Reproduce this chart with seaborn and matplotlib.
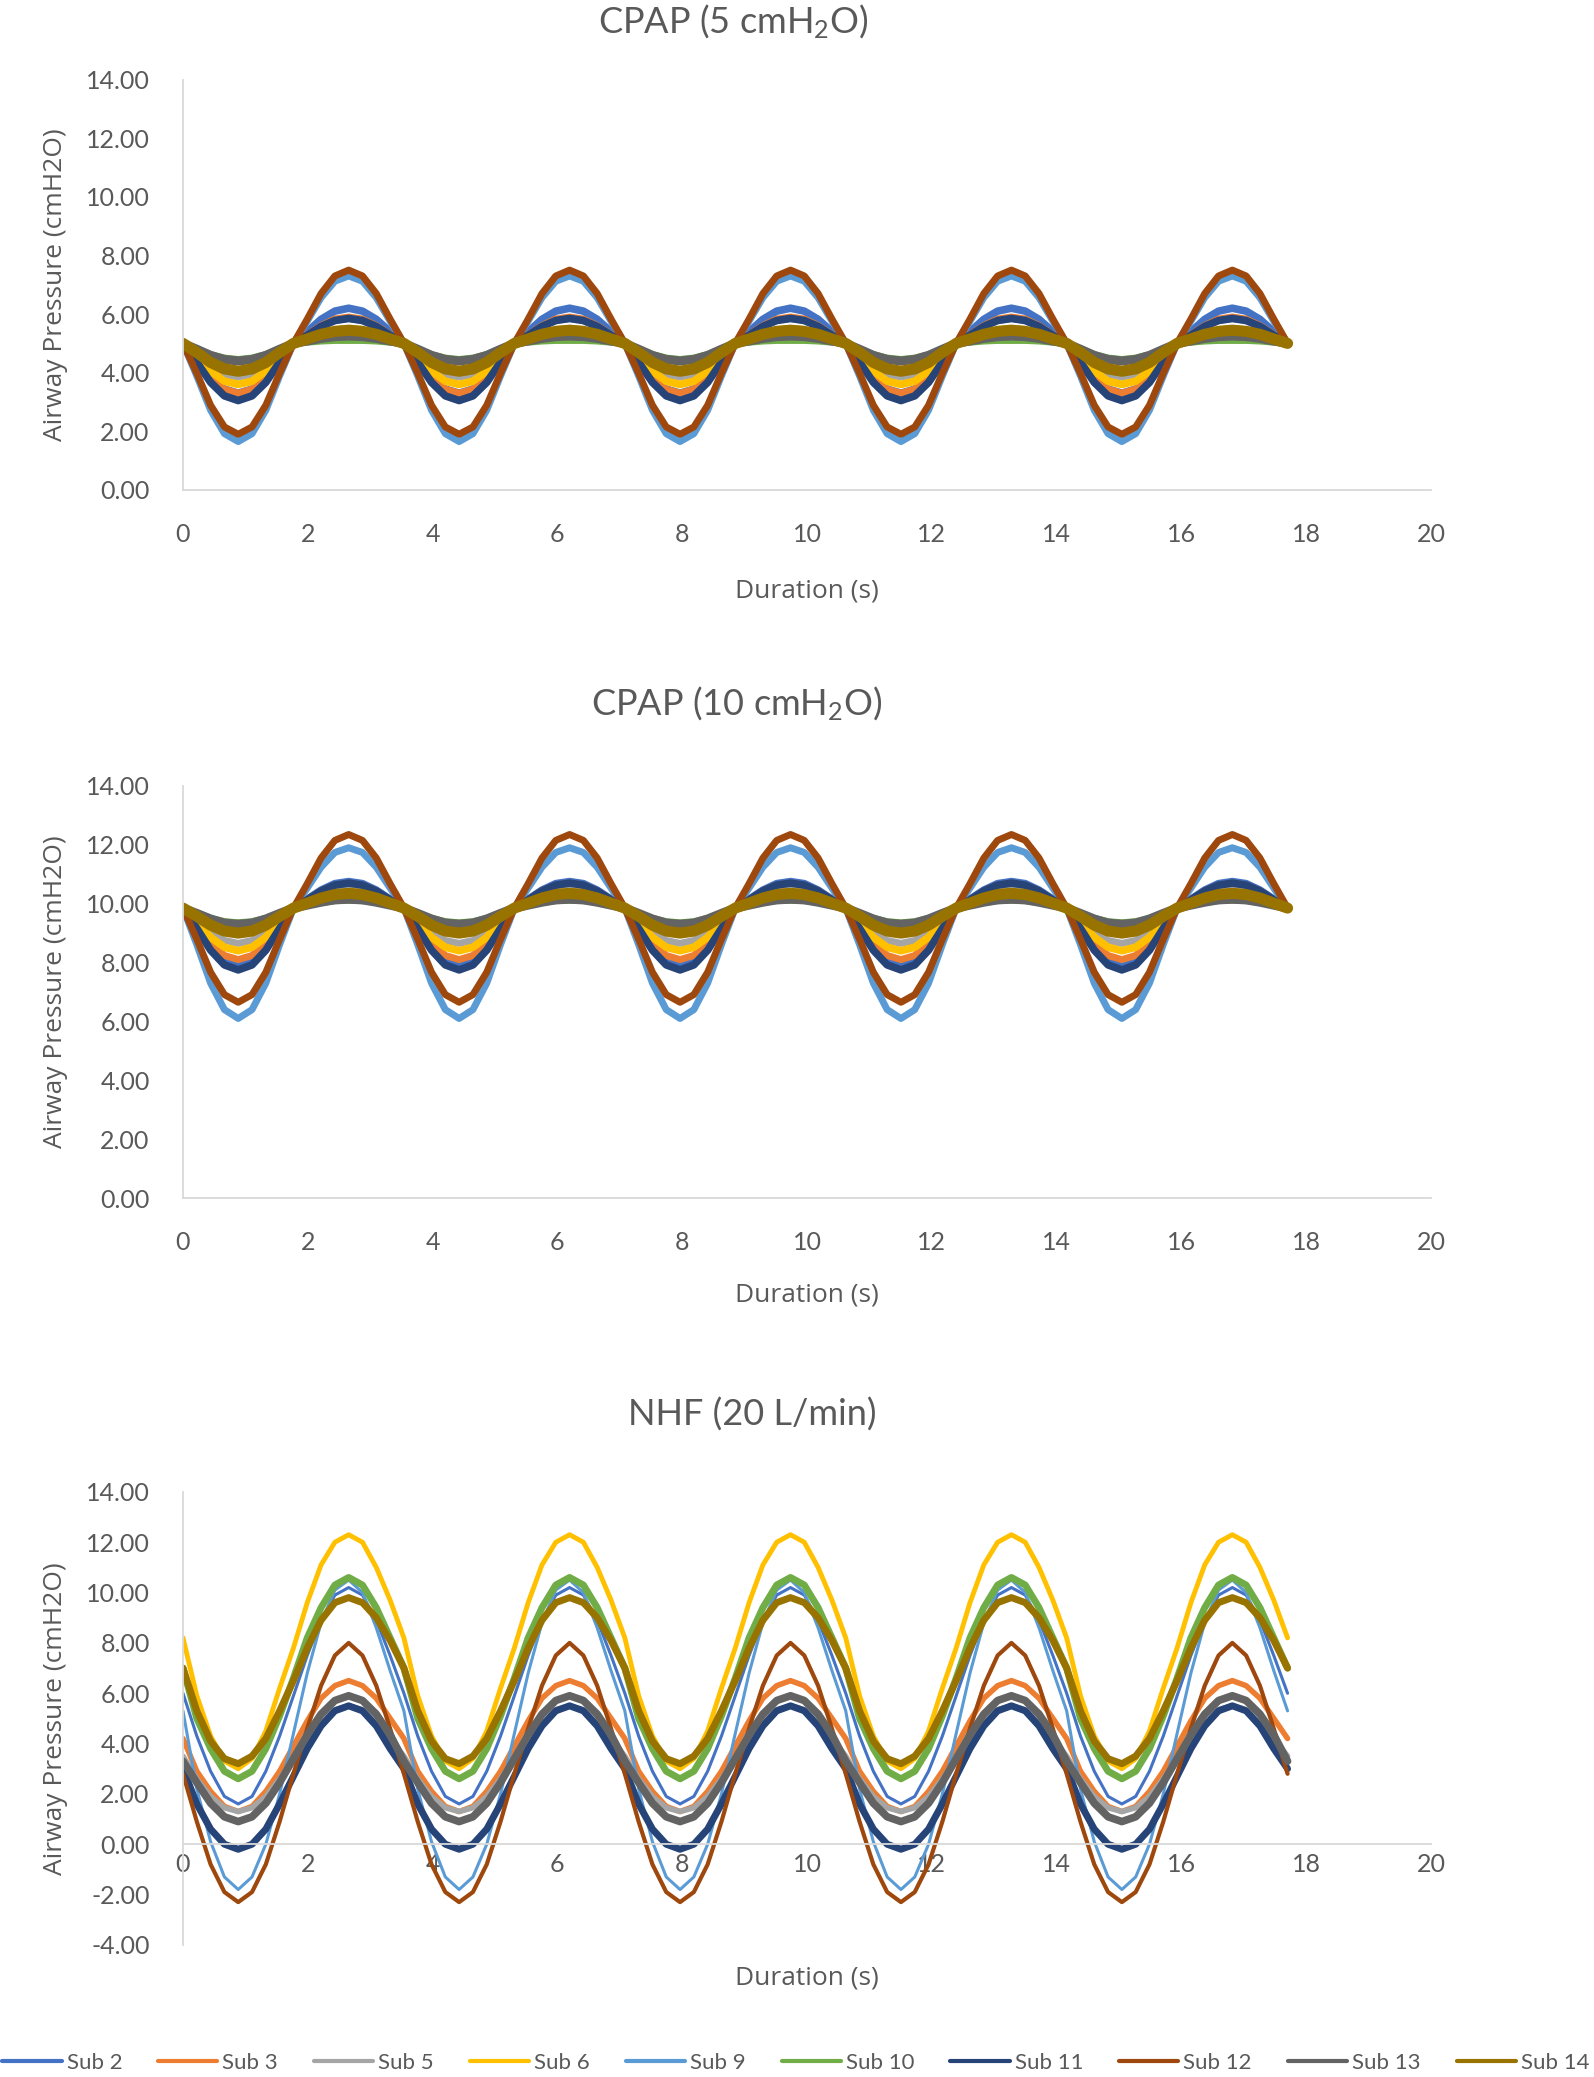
import numpy as np
import pandas as pd
import seaborn as sns
import matplotlib.pyplot as plt
from matplotlib.ticker import FormatStrFormatter

sns.set_theme(style="white")
plt.rcParams["font.family"] = ["Lato", "DejaVu Sans"]
plt.rcParams["mathtext.default"] = "regular"

# ---- data ----
subjects = ["Sub 2", "Sub 3", "Sub 5", "Sub 6", "Sub 9",
            "Sub 10", "Sub 11", "Sub 12", "Sub 13", "Sub 14"]
colors = ["#4472C4", "#ED7D31", "#A5A5A5", "#FFC000", "#5B9BD5",
          "#70AD47", "#264478", "#9E480E", "#636363", "#997300"]

breath_period = 3.54   # s, one breath
n_breaths = 5
samples_per_breath = 16

# one breath per subject: start -> trough -> mid -> peak -> back
cpap5_sub2 = [5.0, 4.44, 3.84, 3.44, 3.3, 3.44, 3.84, 4.44, 5.0, 5.40, 5.82, 6.10, 6.2, 6.10, 5.82, 5.40]
cpap5_sub3 = [5.0, 4.44, 3.84, 3.44, 3.3, 3.44, 3.84, 4.44, 5.0, 5.30, 5.61, 5.83, 5.9, 5.83, 5.61, 5.30]
cpap5_sub5 = [5.0, 4.62, 4.22, 3.94, 3.85, 3.94, 4.22, 4.62, 5.0, 5.28, 5.58, 5.78, 5.85, 5.78, 5.58, 5.28]
cpap5_sub6 = [5.0, 4.54, 4.05, 3.71, 3.6, 3.71, 4.05, 4.54, 5.0, 5.17, 5.34, 5.46, 5.5, 5.46, 5.34, 5.17]
cpap5_sub9 = [5.0, 3.89, 2.72, 1.92, 1.65, 1.92, 2.72, 3.89, 5.0, 5.76, 6.56, 7.12, 7.3, 7.12, 6.56, 5.76]
cpap5_sub10 = [5.0, 4.82, 4.62, 4.5, 4.45, 4.5, 4.62, 4.82, 5.0, 5.04, 5.08, 5.1, 5.1, 5.1, 5.08, 5.04]
cpap5_sub11 = [5.0, 4.36, 3.67, 3.21, 3.05, 3.21, 3.67, 4.36, 5.0, 5.28, 5.58, 5.78, 5.85, 5.78, 5.58, 5.28]
cpap5_sub12 = [5.0, 3.98, 2.89, 2.15, 1.9, 2.15, 2.89, 3.98, 5.0, 5.83, 6.7, 7.3, 7.5, 7.3, 6.7, 5.83]
cpap5_sub13 = [5.0, 4.8, 4.59, 4.45, 4.4, 4.45, 4.59, 4.8, 5.0, 5.08, 5.17, 5.23, 5.25, 5.23, 5.17, 5.08]
cpap5_sub14 = [5.0, 4.69, 4.35, 4.13, 4.05, 4.13, 4.35, 4.69, 5.0, 5.15, 5.31, 5.41, 5.45, 5.41, 5.31, 5.15]

cpap10_sub2 = [9.85, 9.22, 8.56, 8.10, 7.95, 8.10, 8.56, 9.22, 9.85, 10.15, 10.46, 10.68, 10.75, 10.68, 10.46, 10.15]
cpap10_sub3 = [9.85, 9.27, 8.66, 8.24, 8.1, 8.24, 8.66, 9.27, 9.85, 10.13, 10.43, 10.63, 10.7, 10.63, 10.43, 10.13]
cpap10_sub5 = [9.85, 9.45, 9.03, 8.75, 8.65, 8.75, 9.03, 9.45, 9.85, 10.06, 10.29, 10.45, 10.5, 10.45, 10.29, 10.06]
cpap10_sub6 = [9.85, 9.37, 8.86, 8.52, 8.4, 8.52, 8.86, 9.37, 9.85, 10.03, 10.22, 10.36, 10.4, 10.36, 10.22, 10.03]
cpap10_sub9 = [9.85, 8.61, 7.3, 6.4, 6.1, 6.4, 7.3, 8.61, 9.85, 10.53, 11.24, 11.74, 11.9, 11.74, 11.24, 10.53]
cpap10_sub10 = [9.85, 9.68, 9.5, 9.39, 9.35, 9.39, 9.5, 9.68, 9.85, 9.95, 10.04, 10.1, 10.12, 10.1, 10.04, 9.95]
cpap10_sub11 = [9.85, 9.16, 8.42, 7.92, 7.75, 7.92, 8.42, 9.16, 9.85, 10.13, 10.43, 10.63, 10.7, 10.63, 10.43, 10.13]
cpap10_sub12 = [9.85, 8.79, 7.67, 6.91, 6.65, 6.91, 7.67, 8.79, 9.85, 10.68, 11.55, 12.15, 12.35, 12.15, 11.55, 10.68]
cpap10_sub13 = [9.85, 9.67, 9.48, 9.34, 9.3, 9.34, 9.48, 9.67, 9.85, 9.95, 10.05, 10.13, 10.15, 10.13, 10.05, 9.95]
cpap10_sub14 = [9.85, 9.57, 9.27, 9.07, 9.0, 9.07, 9.27, 9.57, 9.85, 10.02, 10.19, 10.31, 10.35, 10.31, 10.19, 10.02]

nhf_sub2 = [6.0, 4.3, 2.9, 1.9, 1.6, 1.9, 2.9, 4.3, 5.9, 7.5, 8.9, 9.9, 10.2, 9.9, 8.9, 7.5]
nhf_sub3 = [4.2, 2.9, 2.1, 1.5, 1.3, 1.5, 2.1, 2.9, 3.9, 4.9, 5.8, 6.3, 6.5, 6.3, 5.8, 5.0]
nhf_sub5 = [3.5, 2.6, 1.9, 1.45, 1.3, 1.45, 1.9, 2.6, 3.4, 4.2, 4.9, 5.35, 5.5, 5.35, 4.9, 4.2]
nhf_sub6 = [8.2, 5.9, 4.3, 3.3, 3.0, 3.4, 4.5, 6.2, 7.8, 9.6, 11.1, 12.0, 12.3, 12.0, 11.0, 9.7]
nhf_sub9 = [5.3, 2.2, 0.1, -1.3, -1.8, -1.3, 0.0, 2.0, 4.4, 6.8, 8.8, 10.1, 10.5, 10.0, 8.6, 6.9]
nhf_sub10 = [7.0, 5.0, 3.8, 2.9, 2.6, 2.9, 3.8, 5.1, 6.6, 8.2, 9.4, 10.3, 10.6, 10.3, 9.4, 8.2]
nhf_sub11 = [3.0, 1.6, 0.6, 0.0, -0.2, 0.0, 0.6, 1.6, 2.7, 3.8, 4.7, 5.3, 5.5, 5.3, 4.7, 3.8]
nhf_sub12 = [2.8, 0.9, -0.8, -1.9, -2.3, -1.9, -0.8, 0.9, 2.8, 4.6, 6.3, 7.5, 8.0, 7.5, 6.3, 4.6]
nhf_sub13 = [3.3, 2.45, 1.63, 1.09, 0.9, 1.09, 1.63, 2.45, 3.4, 4.35, 5.17, 5.71, 5.9, 5.71, 5.17, 4.35]
nhf_sub14 = [7.0, 5.3, 4.1, 3.4, 3.2, 3.5, 4.2, 5.3, 6.5, 7.8, 8.9, 9.6, 9.8, 9.6, 9.0, 8.1]

cpap5 = [cpap5_sub2, cpap5_sub3, cpap5_sub5, cpap5_sub6, cpap5_sub9,
         cpap5_sub10, cpap5_sub11, cpap5_sub12, cpap5_sub13, cpap5_sub14]
cpap10 = [cpap10_sub2, cpap10_sub3, cpap10_sub5, cpap10_sub6, cpap10_sub9,
          cpap10_sub10, cpap10_sub11, cpap10_sub12, cpap10_sub13, cpap10_sub14]
nhf = [nhf_sub2, nhf_sub3, nhf_sub5, nhf_sub6, nhf_sub9,
       nhf_sub10, nhf_sub11, nhf_sub12, nhf_sub13, nhf_sub14]

# line widths (pt) as drawn in each panel
cpap_widths = [5.5, 5.0, 5.0, 5.5, 5.0, 5.0, 5.5, 5.0, 6.5, 8.0]
nhf_widths = [2.2, 4.0, 4.0, 3.5, 2.2, 5.0, 5.0, 3.0, 5.5, 5.0]

text_color = "#595959"
axis_color = "#D9D9D9"
FIG_H = 2077


def build_frame(cycles):
    # repeat the breath n times and close it at the end
    step = breath_period / samples_per_breath
    n = samples_per_breath * n_breaths + 1
    t = np.arange(n) * step
    rows = []
    for sub, cyc in zip(subjects, cycles):
        vals = np.append(np.tile(cyc, n_breaths), cyc[0])
        rows.append(pd.DataFrame({"time": t, "pressure": vals, "subject": sub}))
    return pd.concat(rows, ignore_index=True)


fig = plt.figure(figsize=(15.94, 20.77), dpi=100)

# title, data, widths, ylim, axes rect, title x, title y (px from top), xlabel offset
panels = [
    ("CPAP (5 cmH$_\\mathregular{2}$O)", cpap5, cpap_widths, (0, 14),
     [0.1148, 0.7641, 0.783, 0.1976], 0.460, 22, -0.215),
    ("CPAP (10 cmH$_\\mathregular{2}$O)", cpap10, cpap_widths, (0, 14),
     [0.1148, 0.4232, 0.783, 0.1984], 0.462, 704, -0.204),
    ("NHF (20 L/min)", nhf, nhf_widths, (-4, 14),
     [0.1148, 0.0636, 0.783, 0.2181], 0.472, 1415, -0.046),
]

handles = []
for i, (title, cycles, widths, ylim, rect, tx, ty, xl) in enumerate(panels):
    ax = fig.add_axes(rect)
    df = build_frame(cycles)
    for sub, col, lw in zip(subjects, colors, widths):
        sns.lineplot(data=df[df["subject"] == sub], x="time", y="pressure",
                     color=col, linewidth=lw, ax=ax, estimator=None,
                     sort=False, legend=False)
    ax.set_xlim(0, 20)
    ax.set_ylim(*ylim)
    ax.set_xticks(range(0, 21, 2))
    ax.set_yticks(np.arange(ylim[0], 15, 2))
    ax.yaxis.set_major_formatter(FormatStrFormatter("%.2f"))
    ax.tick_params(length=0, labelsize=18, colors=text_color)
    ax.tick_params(axis="y", pad=24)
    for s in ["top", "right"]:
        ax.spines[s].set_visible(False)
    for s in ["left", "bottom"]:
        ax.spines[s].set_color(axis_color)
        ax.spines[s].set_linewidth(1.3)

    ax.set_ylabel("Airway Pressure (cmH2O)", fontsize=19, color=text_color,
                  family=["Open Sans", "DejaVu Sans"])
    ax.set_xlabel("Duration (s)", fontsize=19, color=text_color,
                  family=["Open Sans", "DejaVu Sans"])
    ax.yaxis.set_label_coords(-0.092, 0.5)
    ax.xaxis.set_label_coords(0.5, xl)

    if i < 2:
        ax.tick_params(axis="x", pad=24)
    else:
        ax.spines["bottom"].set_position(("data", 0))
        ax.tick_params(axis="x", pad=6)
        handles = ax.get_lines()

    fig.text(tx, 1 - ty / FIG_H, title, fontsize=26,
             color=text_color, ha="center", va="center")

leg = fig.legend(handles, subjects, loc="center left",
                 bbox_to_anchor=(0.0015, 0.0067), ncol=10, frameon=False,
                 fontsize=16, handlelength=2.66, handletextpad=0.23,
                 columnspacing=1.62, borderpad=0, borderaxespad=0)
for txt in leg.get_texts():
    txt.set_color(text_color)
for ln in leg.get_lines():
    ln.set_linewidth(3)

fig.savefig("out.png", dpi=100)
